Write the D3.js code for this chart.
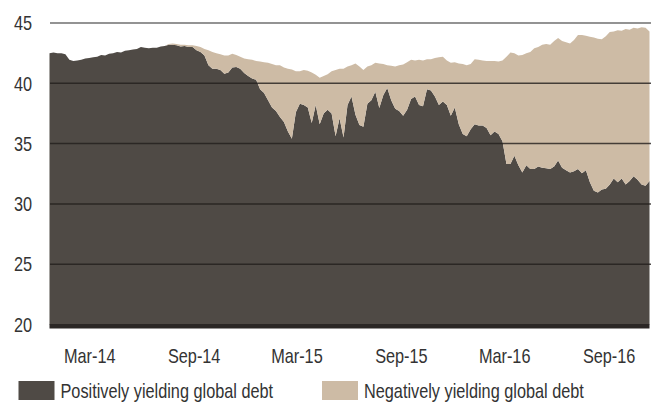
<!DOCTYPE html>
<html>
<head>
<meta charset="utf-8">
<script src="https://cdn.jsdelivr.net/npm/d3@7/dist/d3.min.js"></script>
<style>
  html, body { margin: 0; padding: 0; background: #fff; }
  svg { display: block; }
  text { font-family: "Liberation Sans Narrow", "Arial Narrow", "Liberation Sans", sans-serif; fill: #333; }
</style>
</head>
<body>
<div id="chart"></div>
<script>
// weekly observations, first week below
const startDate = '2013-12-21';

const positive = [
  42.5, 42.55, 42.5, 42.5, 42.4, 41.95, 41.85, 41.9, 41.95, 42.05,
  42.1, 42.15, 42.2, 42.35, 42.3, 42.45, 42.5, 42.6, 42.55, 42.7,
  42.75, 42.8, 42.85, 43.0, 42.95, 42.9, 42.95, 42.95, 43.05, 43.1,
  43.2, 43.2, 43.15, 43.05, 43.1, 43.0, 43.0, 42.75, 42.6, 42.3,
  41.5, 41.2, 41.2, 41.1, 40.8, 40.9, 41.3, 41.35, 41.2, 40.85,
  40.6, 40.4, 40.3, 39.5, 39.2, 38.6, 38.0, 37.7, 37.2, 36.8,
  36.0, 35.4, 37.6, 38.3, 38.2, 38.0, 36.7, 38.2, 36.6, 37.5,
  37.8, 37.5, 35.6, 37.1, 35.5, 38.2, 38.9, 37.4, 36.55, 36.4,
  38.3, 38.6, 39.3, 37.95, 39.0, 39.6, 38.6, 37.9, 37.7, 37.3,
  37.8, 38.7, 38.9, 38.2, 38.1, 39.5, 39.4, 38.9, 38.2, 38.5,
  38.2, 37.3, 38.0, 36.6, 35.8, 35.6, 36.2, 36.6, 36.5, 36.5,
  36.3, 35.7, 36.0, 35.8, 35.2, 33.3, 33.3, 34.0, 33.2, 32.6,
  33.2, 32.9, 32.9, 33.1, 33.0, 32.95, 32.9, 33.1, 33.6, 33.0,
  32.8, 32.6, 32.7, 32.9, 32.55, 32.8, 31.8, 31.1, 30.95, 31.2,
  31.25, 31.6, 32.1, 31.8, 32.1, 31.6, 31.9, 32.3, 32.0, 31.6,
  31.5, 31.9
];

const negative = [
  0, 0, 0, 0, 0, 0, 0, 0, 0, 0,
  0, 0, 0, 0, 0, 0, 0, 0, 0, 0,
  0, 0, 0, 0, 0, 0, 0, 0, 0, 0,
  0.05, 0.1, 0.1, 0.15, 0.1, 0.15, 0.15, 0.35, 0.4, 0.55,
  1.25, 1.4, 1.3, 1.3, 1.5, 1.4, 1.15, 1.0, 1.0, 1.2,
  1.4, 1.55, 1.55, 2.3, 2.55, 3.1, 3.6, 3.8, 4.3, 4.5,
  5.2, 5.75, 3.4, 2.7, 2.9, 3.05, 4.2, 2.5, 3.85, 3.1,
  2.95, 3.5, 5.5, 4.1, 5.7, 3.2, 2.6, 4.25, 4.85, 4.7,
  3.1, 2.9, 2.4, 3.7, 2.6, 1.9, 2.85, 3.5, 3.8, 4.25,
  3.95, 3.25, 3.0, 3.75, 3.8, 2.5, 2.6, 3.2, 3.95, 3.7,
  3.7, 4.4, 3.75, 5.05, 5.8, 5.9, 5.4, 5.4, 5.45, 5.4,
  5.55, 6.15, 5.85, 6.0, 6.7, 8.9, 9.25, 8.5, 9.1, 9.75,
  9.3, 9.7, 10.0, 9.9, 10.2, 10.3, 10.3, 10.4, 10.15, 10.5,
  10.6, 10.7, 10.9, 11.1, 11.45, 11.15, 12.05, 12.7, 12.75, 12.45,
  12.65, 12.65, 12.2, 12.6, 12.25, 12.9, 12.55, 12.3, 12.55, 13.05,
  13.1, 12.4
];

const seriesNames = ['Positively yielding global debt', 'Negatively yielding global debt'];
const yTicks = [20, 25, 30, 35, 40, 45];
const xTickDates = ['2014-03-01', '2014-09-01', '2015-03-01', '2015-09-01', '2016-03-01', '2016-09-01'];
const xTickLabels = ['Mar-14', 'Sep-14', 'Mar-15', 'Sep-15', 'Mar-16', 'Sep-16'];

const width = 654;
const height = 403;
const plot = { left: 49.5, right: 649.5, top: 23, bottom: 324.5 };
const colors = ['#4f4a45', '#cdbba5'];
const fontSize = '21px';

// no condensed face installed, so squeeze the regular one
function condense(sel) {
  sel.each(function () {
    const w = this.getComputedTextLength();
    d3.select(this).attr('textLength', w * 0.775).attr('lengthAdjust', 'spacingAndGlyphs');
  });
}

const parse = d3.utcParse('%Y-%m-%d');
const start = parse(startDate);
const rows = positive.map((p, i) => ({
  date: d3.utcDay.offset(start, i * 7),
  pos: p,
  neg: negative[i]
}));

const svg = d3.select('#chart')
  .append('svg')
  .attr('width', width)
  .attr('height', height);

const x = d3.scaleUtc()
  .domain(d3.extent(rows, d => d.date))
  .range([plot.left, plot.right]);

const y = d3.scaleLinear()
  .domain([20, 45])
  .range([plot.bottom, plot.top]);

const stacked = d3.stack().keys(['pos', 'neg'])(rows);

const area = d3.area()
  .x(d => x(d.data.date))
  .y0(d => y(Math.max(d[0], 20)))
  .y1(d => y(d[1]));

svg.append('g')
  .selectAll('path')
  .data(stacked)
  .join('path')
  .attr('fill', (d, i) => colors[i])
  .attr('d', area);

// grid lines above the areas
svg.append('g')
  .selectAll('line')
  .data(yTicks.filter(t => t > 20))
  .join('line')
  .attr('x1', plot.left + 0.5)
  .attr('x2', plot.right + 1.5)
  .attr('y1', d => y(d))
  .attr('y2', d => y(d))
  .attr('stroke', d => d === 45 ? '#6f6f6f' : '#221e1c')
  .attr('stroke-opacity', d => d === 45 ? 1 : 0.8)
  .attr('stroke-width', 1.5);

// thick base line at 20
svg.append('line')
  .attr('x1', plot.left)
  .attr('x2', plot.right)
  .attr('y1', y(20) + 1.8)
  .attr('y2', y(20) + 1.8)
  .attr('stroke', '#2b2725')
  .attr('stroke-width', 4.6);

// y axis labels
svg.append('g')
  .attr('transform', 'translate(32,0)')
  .call(d3.axisLeft(y).tickValues(yTicks).tickSize(0).tickPadding(0))
  .call(g => g.select('.domain').remove())
  .call(g => g.selectAll('text')
    .attr('fill', '#333')
    .style('font-size', fontSize)
    .style('font-family', null)
    .call(condense));

// x axis labels; last one kept inside the plot
svg.append('g')
  .attr('transform', `translate(0,${plot.bottom + 23.5})`)
  .call(d3.axisBottom(x)
    .tickValues(xTickDates.map(parse))
    .tickFormat((d, i) => xTickLabels[i])
    .tickSize(0)
    .tickPadding(0))
  .call(g => g.select('.domain').remove())
  .call(g => g.selectAll('text')
    .attr('fill', '#333')
    .style('font-size', fontSize)
    .style('font-family', null)
    .attr('dy', '0.71em')
    .call(condense))
  .call(g => g.selectAll('.tick').each(function (d) {
    const t = d3.select(this).select('text');
    const w = +t.attr('textLength');
    const overflow = x(d) + w / 2 - (plot.right - 1);
    if (overflow > 0) t.attr('x', -overflow);
  }));

// legend
const legend = svg.append('g');
const legendX = [18.5, 322];
seriesNames.forEach((name, i) => {
  legend.append('rect')
    .attr('x', legendX[i])
    .attr('y', 381)
    .attr('width', 36)
    .attr('height', 19)
    .attr('fill', colors[i]);
  legend.append('text')
    .attr('x', legendX[i] + 42)
    .attr('y', 398)
    .style('font-size', fontSize)
    .text(name)
    .call(condense);
});
</script>
</body>
</html>
